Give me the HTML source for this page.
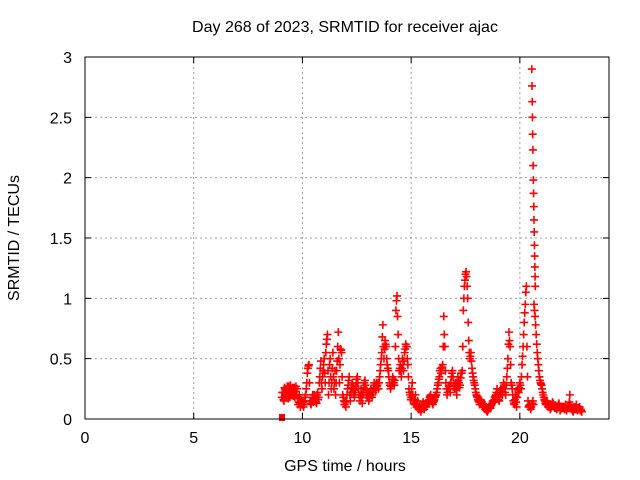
<!DOCTYPE html>
<html><head><meta charset="utf-8"><style>
body{margin:0;background:#fff}
svg{display:block;font-family:"Liberation Sans",sans-serif;font-size:16px}
</style></head><body>
<svg id="chart" width="640" height="480">
<text x="345" y="32" text-anchor="middle">Day 268 of 2023, SRMTID for receiver ajac</text>
<text x="345" y="471" text-anchor="middle">GPS time / hours</text>
<text transform="translate(19,238) rotate(-90)" text-anchor="middle">SRMTID / TECUs</text>
<g id="grid"></g>
<g id="axes"></g>
<g id="marks"></g>
<rect x="85" y="57" width="524" height="362" fill="none" stroke="#000" stroke-width="1"/>
</svg>
<script>
const xTicks=[0,5,10,15,20];
const yTicks=[0,0.5,1,1.5,2,2.5,3];
const yTickLabels=["0","0.5","1","1.5","2","2.5","3"];
const mainStart=9.05;
const mainStep=0.05;
const mainValues=[
0.18,0.22,0.15,0.25,0.2,0.27,0.17,0.24,0.28,0.2,0.26,0.22,0.18,0.27,0.25,0.12,0.2,0.1,0.15,
0.12,0.1,0.15,0.2,0.3,0.42,0.45,0.15,0.12,0.18,0.14,0.2,0.16,0.13,0.22,0.18,0.35,0.48,0.25,0.4,
0.5,0.3,0.62,0.7,0.2,0.45,0.35,0.3,0.55,0.25,0.4,0.3,0.48,0.72,0.3,0.58,0.55,0.2,0.15,0.12,
0.1,0.2,0.28,0.35,0.15,0.25,0.3,0.22,0.18,0.27,0.33,0.3,0.2,0.15,0.25,0.13,0.22,0.3,0.28,0.2,
0.18,0.15,0.2,0.25,0.18,0.22,0.3,0.26,0.3,0.28,0.25,0.35,0.45,0.55,0.78,0.5,0.65,0.6,0.45,0.4,
0.3,0.25,0.28,0.35,0.3,0.32,0.9,1.02,0.7,0.4,0.45,0.35,0.5,0.4,0.55,0.62,0.6,0.45,0.25,0.2,
0.18,0.3,0.15,0.12,0.2,0.1,0.15,0.08,0.12,0.06,0.1,0.14,0.08,0.12,0.1,0.15,0.13,0.18,0.2,0.15,
0.12,0.15,0.18,0.2,0.25,0.3,0.35,0.42,0.4,0.45,0.85,0.6,0.3,0.2,0.25,0.28,0.22,0.35,0.4,0.3,
0.25,0.3,0.2,0.35,0.3,0.28,0.38,0.4,0.9,1.1,1.2,1.18,1.0,0.65,0.5,0.55,0.42,0.35,0.3,0.25,
0.2,0.18,0.15,0.12,0.16,0.14,0.1,0.12,0.08,0.1,0.06,0.08,0.1,0.09,0.12,0.15,0.14,0.18,0.2,0.25,
0.18,0.15,0.22,0.25,0.2,0.3,0.25,0.2,0.35,0.5,0.72,0.6,0.3,0.25,0.15,0.12,0.2,0.1,0.25,0.22,
0.3,0.25,0.45,0.6,0.8,0.95,1.1,0.35,0.1,0.12,0.08,0.12,0.15,0.95,0.85,0.7,0.55,0.45,0.35,0.3,
0.28,0.22,0.18,0.15,0.12,0.15,0.1,0.12,0.08,0.1,0.14,0.12,0.09,0.11,0.08,0.1,0.13,0.07,0.1,0.09,
0.1,0.08,0.12,0.07,0.1,0.09,0.2,0.1,0.08,0.06,0.1,0.08,0.12,0.07,0.09,0.1,0.08,0.06];
const fillStart=9.075;
const fillStep=0.05;
const fillValues=[
0.22,0.16,0.26,0.19,0.24,0.21,0.27,0.18,0.23,0.25,0.19,0.26,0.23,0.2,0.17,0.14,0.13,0.16,0.12,
0.14,0.12,0.18,0.25,0.38,0.44,0.3,0.13,0.15,0.2,0.17,0.18,0.14,0.2,0.16,0.3,0.42,0.3,0.35,0.45,
0.38,0.55,0.66,0.4,0.3,0.5,0.25,0.42,0.35,0.3,0.2,0.4,0.6,0.5,0.45,0.57,0.35,0.18,0.12,0.14,
0.15,0.25,0.32,0.2,0.22,0.28,0.26,0.2,0.24,0.3,0.35,0.25,0.18,0.2,0.18,0.2,0.26,0.32,0.24,0.18,
0.2,0.17,0.22,0.2,0.2,0.26,0.28,0.24,0.27,0.3,0.3,0.4,0.5,0.68,0.6,0.58,0.62,0.5,0.42,0.35,
0.28,0.27,0.3,0.33,0.28,0.6,0.98,0.85,0.5,0.42,0.4,0.42,0.45,0.48,0.58,0.6,0.5,0.35,0.22,0.16,
0.25,0.2,0.13,0.16,0.12,0.12,0.1,0.1,0.08,0.08,0.12,0.1,0.1,0.11,0.13,0.14,0.16,0.19,0.17,0.13,
0.14,0.16,0.19,0.22,0.28,0.33,0.4,0.38,0.43,0.6,0.7,0.4,0.25,0.22,0.27,0.25,0.3,0.38,0.35,0.27,
0.28,0.24,0.3,0.32,0.26,0.34,0.38,0.6,1.0,1.15,1.22,1.1,0.8,0.55,0.52,0.48,0.38,0.32,0.28,0.22,
0.19,0.16,0.14,0.14,0.15,0.12,0.11,0.1,0.09,0.07,0.07,0.09,0.1,0.11,0.13,0.14,0.16,0.19,0.22,0.2,
0.16,0.2,0.24,0.22,0.26,0.28,0.22,0.28,0.42,0.62,0.65,0.45,0.28,0.2,0.13,0.16,0.14,0.18,0.24,0.26,
0.28,0.35,0.52,0.7,0.88,1.05,0.6,0.15,0.11,0.1,0.1,0.13,0.12,0.9,0.78,0.62,0.5,0.4,0.32,0.29,
0.25,0.2,0.16,0.13,0.14,0.12,0.11,0.1,0.09,0.12,0.13,0.1,0.1,0.09,0.09,0.12,0.1,0.08,0.09,0.1,
0.09,0.1,0.08,0.09,0.11,0.14,0.12,0.09,0.07,0.08,0.09,0.1,0.08,0.08,0.09,0.07,0.07];
const spikeTimes=[20.55,20.56,20.57,20.58,20.59,20.6,20.61,20.62,20.63,20.64,20.65,20.66,20.67,20.68,20.69,20.7,20.71];
const spikeValues=[2.9,2.76,2.63,2.5,2.36,2.23,2.1,1.98,1.87,1.76,1.65,1.55,1.44,1.35,1.26,1.18,1.1];
const gapTimes=[9.06];
const gapValues=[0];

const X0=85,X1=609,Y0=419,Y1=57,xMax=24.1,yMax=3;
const xs=v=>X0+(v/xMax)*(X1-X0);
const ys=v=>Y0-(v/yMax)*(Y0-Y1);
const NS="http://www.w3.org/2000/svg";
const grid=document.getElementById('grid'),axes=document.getElementById('axes'),marks=document.getElementById('marks');
function mk(tag,attrs,parent){const e=document.createElementNS(NS,tag);for(const k in attrs)e.setAttribute(k,attrs[k]);parent.appendChild(e);return e;}
xTicks.forEach(t=>{
  const x=xs(t);
  if(t>0){const g=mk('line',{x1:x,x2:x,y1:Y1,y2:Y0,stroke:'#a0a0a0','stroke-dasharray':'2,3'},grid);
  
  }
  const tk=mk('path',{d:`M${x},${Y0}v-6M${x},${Y1}v6`,stroke:'#000'},axes);
  
  
  const l=mk('text',{x:x,y:Y0+24,'text-anchor':'middle'},axes);l.textContent=t;
  
  
});
yTicks.forEach((t,i)=>{
  const y=ys(t);
  if(t>0){const g=mk('line',{x1:X0,x2:X1,y1:y,y2:y,stroke:'#a0a0a0','stroke-dasharray':'2,3'},grid);
  
  }
  const tk=mk('path',{d:`M${X0},${y}h6M${X1},${y}h-6`,stroke:'#000'},axes);
  
  
  const l=mk('text',{x:X0-13,y:y+6,'text-anchor':'end'},axes);l.textContent=yTickLabels[i];
  
  
});
function cross(t,v){
  const x=xs(t),y=ys(v);
  const p=mk('path',{d:`M${x-4},${y}h8M${x},${y-4}v8`,stroke:'#ff0000','stroke-width':1.6},marks);
  
  
}
mainValues.forEach((v,i)=>cross(mainStart+i*mainStep,v));
fillValues.forEach((v,i)=>cross(fillStart+i*fillStep,v));
spikeValues.forEach((v,i)=>cross(spikeTimes[i],v));
gapValues.forEach((v,i)=>{
  const r=mk('rect',{x:xs(gapTimes[i])-3,y:ys(v)-5,width:6,height:7,fill:'#ff0000'},marks);
  
  
});
</script>
</body></html>
